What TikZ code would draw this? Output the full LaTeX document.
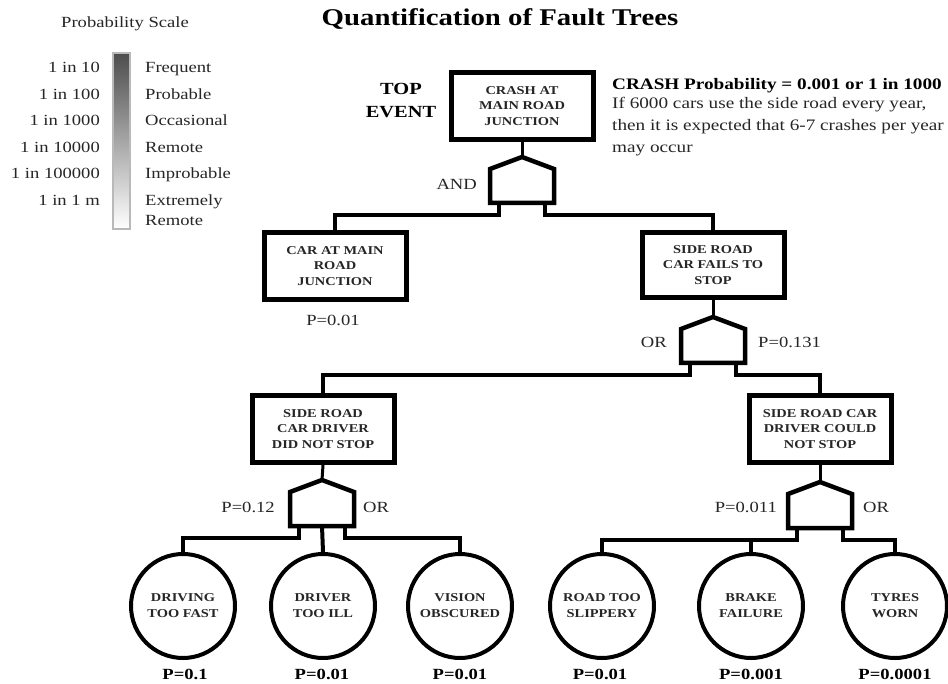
\documentclass[tikz,border=0pt]{standalone}
\usepackage{fontspec}
\setmainfont{Liberation Serif}[FakeStretch=1.2]
\usetikzlibrary{positioning}

\tikzset{
    event/.style={draw, line width=5pt, minimum width=142pt, minimum height=67pt,
        align=center, inner sep=2pt, text=black!85,
        font=\fontsize{12}{15.5}\selectfont\bfseries},
    basic/.style={draw, circle, line width=4pt, minimum size=104pt, align=center,
        inner sep=0pt, text=black!85, font=\fontsize{12}{16}\selectfont\bfseries},
    link/.style={line width=4pt},
    stem/.style={line width=3pt},
    lbl/.style={inner sep=0pt, text=black!85, font=\fontsize{15.5}{18}\selectfont},
    plbl/.style={inner sep=0pt, font=\fontsize{15.5}{18}\selectfont\bfseries},
    gate/.pic={
        \draw[line width=4.5pt, line join=miter] (-32, 12) -- (0, 0) -- (32, 12) -- (32, 46) -- (-32, 46) -- cycle;
        \coordinate (-apex) at (0, 0);
        \coordinate (-l) at (-23, 46);
        \coordinate (-m) at (0, 46);
        \coordinate (-r) at (23, 46);
    },
}

\begin{document}
\begin{tikzpicture}[x=1pt, y=-1pt]
    \path[use as bounding box, fill=white] (0, 0) rectangle (948, 684);

    % heading and scale
    \node[anchor=base, font=\fontsize{24}{28}\selectfont\bfseries] (title) at (500, 26) {Quantification of Fault Trees};
    \node[lbl, anchor=base] (scaletitle) at (125, 28) {Probability Scale};
    \shade[top color=black!70, bottom color=white, draw=gray!55, line width=2pt] (113, 53) rectangle (130, 229);
    \foreach \n/\w [count=\i from 0] in {10/Frequent, 100/Probable, 1000/Occasional, 10000/Remote, 100000/Improbable, 1 m/Extremely} {
        \node[lbl, anchor=base east] (odds\i) at (100, 73+26.5*\i) {1 in \n};
        \node[lbl, anchor=base west] (level\i) at (145, 73+26.5*\i) {\w};
    }
    \node[lbl, anchor=base west] (level6) at (145, 226) {Remote};

    % top event
    \node[event] (crash) at (522, 106) {CRASH AT\\MAIN ROAD\\JUNCTION};
    \node[align=center, inner sep=0pt, font=\fontsize{17}{23}\selectfont\bfseries] (topevent) at (401, 100.5) {TOP\\EVENT};
    \node[plbl, anchor=base west, font=\fontsize{16}{18}\selectfont\bfseries] (result) at (612, 90) {CRASH Probability = 0.001 or 1 in 1000};
    \node[lbl, anchor=base west, font=\fontsize{16}{22}\selectfont] (note) at (612, 109)
        {\begin{tabular}[t]{@{}l@{}}If 6000 cars use the side road every year,\\then it is expected that 6-7 crashes per year\\may occur\end{tabular}};

    \pic (and1) at (522, 157) {gate};
    \draw[stem] (crash.south) -- (and1-apex);
    \node[lbl, anchor=base east] (andlbl) at (477, 190) {AND};

    % second level
    \node[event] (mainroad) at (335, 266) {CAR AT MAIN\\ROAD\\JUNCTION};
    \node[event, minimum height=65pt] (fails) at (713, 265) {SIDE ROAD\\CAR FAILS TO\\STOP};
    \draw[link] (and1-l) -- ++(0, 12) -| (mainroad.north);
    \draw[link] (and1-r) -- ++(0, 12) -| (fails.north);
    \node[lbl, anchor=base] (pmain) at (333, 326) {P=0.01};

    \pic (or1) at (713, 317) {gate};
    \draw[stem] (fails.south) -- (or1-apex);
    \node[lbl, anchor=base east] (or1lbl) at (667, 348) {OR};
    \node[lbl, anchor=base west] (pfails) at (758, 348) {P=0.131};

    % third level
    \node[event] (didnot) at (323, 429) {SIDE ROAD\\CAR DRIVER\\DID NOT STOP};
    \node[event] (could) at (820, 429) {SIDE ROAD CAR\\DRIVER COULD\\NOT STOP};
    \draw[link] (or1-l) -- ++(0, 12) -| (didnot.north);
    \draw[link] (or1-r) -- ++(0, 12) -| (could.north);

    \pic (or2) at (322, 480) {gate};
    \draw[stem] (didnot.south) -- (or2-apex);
    \node[lbl, anchor=base east] (pdidnot) at (275, 512) {P=0.12};
    \node[lbl, anchor=base west] (or2lbl) at (363, 512) {OR};

    \pic (or3) at (820, 482) {gate};
    \draw[stem] (could.south) -- (or3-apex);
    \node[lbl, anchor=base east] (pcould) at (777, 512) {P=0.011};
    \node[lbl, anchor=base west] (or3lbl) at (863, 512) {OR};

    % basic events
    \node[basic] (fast) at (183, 606) {DRIVING\\TOO FAST};
    \node[basic] (ill) at (323, 606) {DRIVER\\TOO ILL};
    \node[basic] (vision) at (460, 606) {VISION\\OBSCURED};
    \node[basic] (slippery) at (602, 606) {ROAD TOO\\SLIPPERY};
    \node[basic] (brake) at (751, 606) {BRAKE\\FAILURE};
    \node[basic] (tyres) at (895, 606) {TYRES\\WORN};

    \draw[link] (or2-l) -- ++(0, 12) -| (fast.north);
    \draw[link] (or2-m) -- (ill.north);
    \draw[link] (or2-r) -- ++(0, 12) -| (vision.north);
    \draw[link] (or3-l) -- ++(0, 12) coordinate (join3) -| (slippery.north);
    \draw[link] (brake.north) -- (brake.north |- join3);
    \draw[link] (or3-r) -- ++(0, 12) -| (tyres.north);

    \node[plbl, anchor=base] (pfast) at (185, 679) {P=0.1};
    \node[plbl, anchor=base] (pill) at (322, 679) {P=0.01};
    \node[plbl, anchor=base] (pvision) at (460, 679) {P=0.01};
    \node[plbl, anchor=base] (pslippery) at (600, 679) {P=0.01};
    \node[plbl, anchor=base] (pbrake) at (751, 679) {P=0.001};
    \node[plbl, anchor=base] (ptyres) at (895, 679) {P=0.0001};
\end{tikzpicture}
\end{document}
